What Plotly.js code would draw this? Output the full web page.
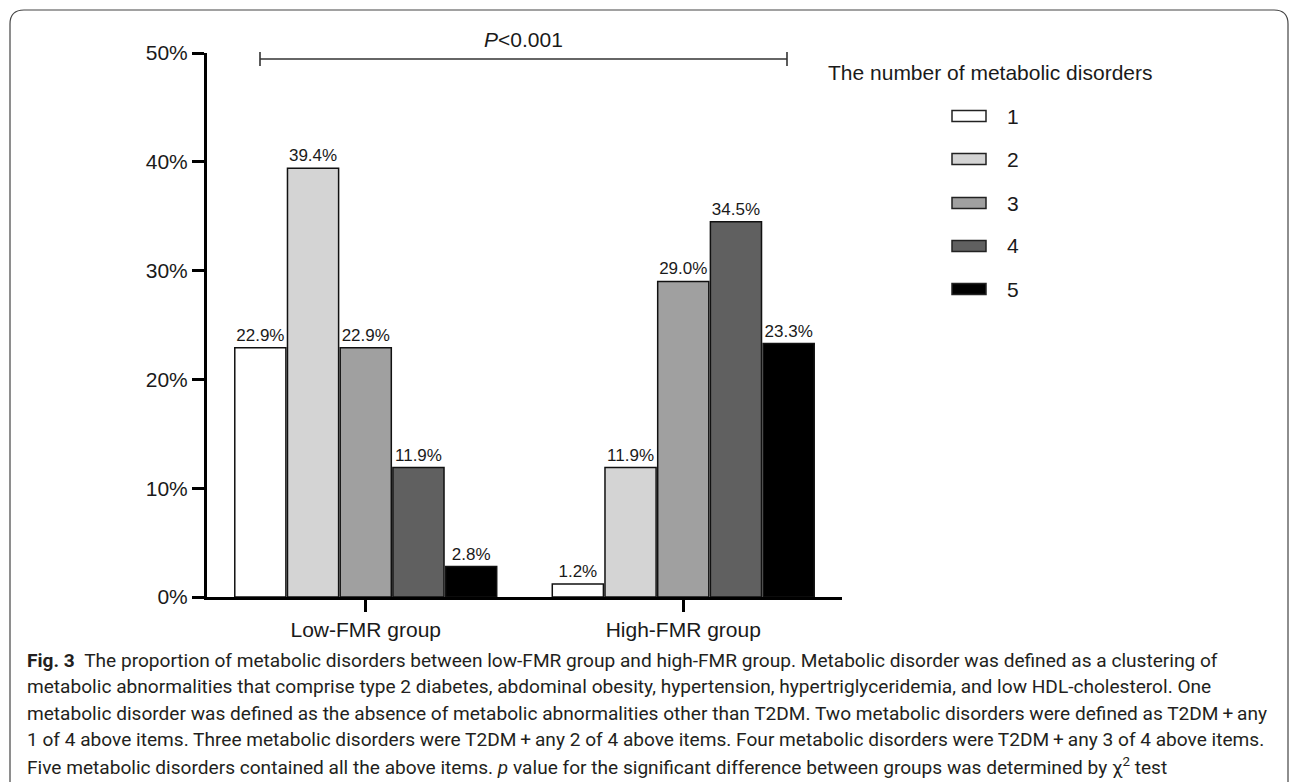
<!DOCTYPE html>
<html>
<head>
<meta charset="utf-8">
<script src="https://cdn.plot.ly/plotly-3.0.1.min.js"></script>
<style>html,body{margin:0;padding:0;background:#fff;}#chart{width:1290px;height:782px;}</style>
</head>
<body>
<div id="chart"></div>
<script>
// ---- data ----
const groups = ["Low-FMR group", "High-FMR group"];
const seriesNames = ["1", "2", "3", "4", "5"];
const lowFMR  = [22.9, 39.4, 22.9, 11.9, 2.8];
const highFMR = [1.2, 11.9, 29.0, 34.5, 23.3];
const yTicks = [0, 10, 20, 30, 40, 50];
const seriesColors = ["#ffffff", "#d4d4d4", "#a0a0a0", "#606060", "#000000"];
const legendTitle = "The number of metabolic disorders";
const pText = "<i>P</i><0.001";
const captionLines = [
  "<b>Fig. 3</b>\u00a0\u00a0The proportion of metabolic disorders between low-FMR group and high-FMR group. Metabolic disorder was defined as a clustering of",
  "metabolic abnormalities that comprise type 2 diabetes, abdominal obesity, hypertension, hypertriglyceridemia, and low HDL-cholesterol. One",
  "metabolic disorder was defined as the absence of metabolic abnormalities other than T2DM. Two metabolic disorders were defined as T2DM\u2009+\u2009any",
  "1 of 4 above items. Three metabolic disorders were T2DM\u2009+\u2009any 2 of 4 above items. Four metabolic disorders were T2DM\u2009+\u2009any 3 of 4 above items.",
  "Five metabolic disorders contained all the above items. <i>p</i> value for the significant difference between groups was determined by \u03c7<sup>2</sup> test"
];

// ---- layout geometry (pixels) ----
const W = 1290, H = 782;
const L = 207, R = 842, T = 53, B = 597;
const pw = R - L, ph = B - T;
const px = v => (v - L) / pw;
const py = v => (B - v) / ph;
const FONT = "Liberation Sans, Arial, Helvetica, sans-serif";
const CAPFONT = "Roboto, 'Open Sans', sans-serif";

const traces = seriesNames.map((n, i) => ({
  type: "bar",
  name: n,
  x: groups,
  y: [lowFMR[i], highFMR[i]],
  marker: {color: seriesColors[i], line: {color: "#111", width: 1.5}},
  texttemplate: "%{y:.1f}%",
  textposition: "outside",
  textfont: {family: FONT, size: 17, color: "#1a1a1a"},
  cliponaxis: false,
  hoverinfo: "skip"
}));

const shapes = [];
const annotations = [];

// frame
shapes.push({
  type: "path", xref: "paper", yref: "paper",
  path: `M ${px(10)},${py(800)} L ${px(10)},${py(24)} Q ${px(10)},${py(10)} ${px(24)},${py(10)} L ${px(1274)},${py(10)} Q ${px(1288)},${py(10)} ${px(1288)},${py(24)} L ${px(1288)},${py(800)}`,
  line: {color: "#444", width: 1.2}
});

// significance bracket
const bx0 = 260, bx1 = 787, by = 59;
shapes.push({type: "line", xref: "paper", yref: "paper", x0: px(bx0), x1: px(bx1), y0: py(by), y1: py(by), line: {color: "#333", width: 1.6}});
shapes.push({type: "line", xref: "paper", yref: "paper", x0: px(bx0), x1: px(bx0), y0: py(by - 7), y1: py(by + 7), line: {color: "#333", width: 1.6}});
shapes.push({type: "line", xref: "paper", yref: "paper", x0: px(bx1), x1: px(bx1), y0: py(by - 7), y1: py(by + 7), line: {color: "#333", width: 1.6}});
annotations.push({xref: "paper", yref: "paper", x: px(523), y: py(39), text: pText, showarrow: false,
  xanchor: "center", yanchor: "middle", font: {family: FONT, size: 21, color: "#1a1a1a"}});

// custom legend
annotations.push({xref: "paper", yref: "paper", x: px(826), y: py(73), text: legendTitle, showarrow: false,
  xanchor: "left", yanchor: "middle", font: {family: FONT, size: 21, color: "#1a1a1a"}});
const legY = [116, 159, 203, 246, 289];
seriesNames.forEach((n, i) => {
  shapes.push({type: "rect", xref: "paper", yref: "paper", x0: px(952), x1: px(986), y0: py(legY[i] - 5.5), y1: py(legY[i] + 5.5),
    fillcolor: seriesColors[i], line: {color: "#222", width: 1.5}});
  annotations.push({xref: "paper", yref: "paper", x: px(1005), y: py(legY[i]), text: n, showarrow: false,
    xanchor: "left", yanchor: "middle", font: {family: FONT, size: 21, color: "#1a1a1a"}});
});

// caption
const capY = [660, 686.5, 713, 739.5, 766];
captionLines.forEach((t, i) => {
  annotations.push({xref: "paper", yref: "paper", x: px(25), y: py(capY[i]), text: t, showarrow: false,
    xanchor: "left", yanchor: "middle", font: {family: CAPFONT, size: 19.1, color: "#231f20"}});
});

const layout = {
  width: W, height: H,
  margin: {l: L, r: W - R, t: T, b: H - B, pad: 0},
  paper_bgcolor: "#fff", plot_bgcolor: "#fff",
  showlegend: false,
  barmode: "group", bargap: 0.17, bargroupgap: 0.03,
  font: {family: FONT, color: "#1a1a1a"},
  xaxis: {
    type: "category", range: [-0.5, 1.5],
    showline: true, linecolor: "#000", linewidth: 3,
    ticks: "outside", ticklen: 12, tickwidth: 3, tickcolor: "#000",
    tickfont: {family: FONT, size: 21, color: "#1a1a1a"},
    showgrid: false, zeroline: false, fixedrange: true
  },
  yaxis: {
    range: [0, 50], tickvals: yTicks, ticktext: yTicks.map(v => v + "%"),
    showline: true, linecolor: "#000", linewidth: 3,
    ticks: "outside", ticklen: 12, tickwidth: 3, tickcolor: "#000",
    tickfont: {family: FONT, size: 21, color: "#1a1a1a"},
    showgrid: false, zeroline: false, fixedrange: true
  },
  shapes: shapes,
  annotations: annotations
};

Plotly.newPlot("chart", traces, layout, {displayModeBar: false, staticPlot: true});
</script>
</body>
</html>
